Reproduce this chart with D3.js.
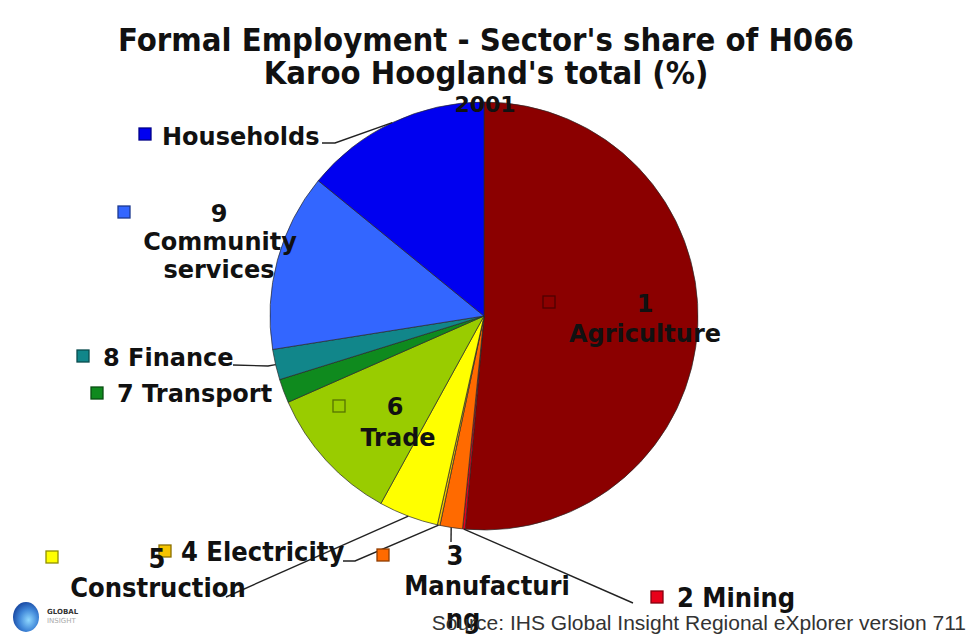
<!DOCTYPE html>
<html>
<head>
<meta charset="utf-8">
<script src="https://cdn.jsdelivr.net/npm/d3@7"></script>
<style>
  body { margin: 0; background: #fff; }
  svg { display: block; }
</style>
</head>
<body>
<svg id="chart" width="969" height="641"></svg>
<script>
// Sector shares of formal employment, 2001 (percent)
const sectors = ["1 Agriculture", "2 Mining", "3 Manufacturing", "4 Electricity", "5 Construction",
                 "6 Trade", "7 Transport", "8 Finance", "9 Community services", "Households"];
const shares = [51.4, 0.2, 1.7, 0.2, 4.5, 10.4, 1.8, 2.3, 13.4, 14.1];
const colors = ["#8b0000", "#e8001a", "#ff6a00", "#f5c400", "#ffff00",
                "#99cc00", "#0f8a1e", "#11868a", "#3366ff", "#0000f0"];
const titleLines = ["Formal Employment - Sector's share of H066", "Karoo Hoogland's total (%)"];
const yearLabel = "2001";
const sourceNote = "Source: IHS Global Insight Regional eXplorer version 711";

// Label placement for each sector: legend key, text lines, optional leader bend/end points
const labelLayout = [
  { key: [549, 302], font: "wide",
    lines: [["1", 645, 312, "middle"], ["Agriculture", 645, 342, "middle"]] },
  { key: [657, 597], font: "narrow", leader: [[633, 603]],
    lines: [["2 Mining", 677, 607, "start"]] },
  { key: [383, 555], font: "narrow", leader: [[451, 542]],
    lines: [["3", 455, 565, "middle"], ["Manufacturi", 487, 595, "middle"], ["ng", 463, 628, "middle"]] },
  { key: [165, 551], font: "narrow", leader: [[355, 561], [343, 561]],
    lines: [["4 Electricity", 181, 561, "start"]] },
  { key: [52, 557], font: "narrow", leader: [[226, 597]],
    lines: [["5", 157, 568, "middle"], ["Construction", 158, 597, "middle"]] },
  { key: [339, 406], font: "wide",
    lines: [["6", 395, 415, "middle"], ["Trade", 398, 446, "middle"]] },
  { key: [97, 393], font: "wide",
    lines: [["7 Transport", 117, 402, "start"]] },
  { key: [83, 356], font: "wide", leader: [[268, 366], [233, 365]],
    lines: [["8 Finance", 103, 366, "start"]] },
  { key: [124, 212], font: "wide",
    lines: [["9", 219, 222, "middle"], ["Community", 220, 250, "middle"], ["services", 219, 278, "middle"]] },
  { key: [145, 134], font: "wide", leader: [[335, 143], [322, 143]],
    lines: [["Households", 162, 145, "start"]] }
];

const svg = d3.select("#chart");
const cx = 484, cy = 316, R = 214;

const fonts = {
  wide: { family: "'DejaVu Sans', Verdana, sans-serif", size: 24, stretch: "normal" },
  narrow: { family: "'DejaVu Sans Condensed', 'DejaVu Sans', sans-serif", size: 27, stretch: "condensed" }
};

// Pie
const pie = d3.pie().sort(null).value(d => d).startAngle(0).endAngle(2 * Math.PI);
const arcs = pie(shares);
const arc = d3.arc().innerRadius(0).outerRadius(R);

const g = svg.append("g").attr("transform", `translate(${cx},${cy})`);
g.selectAll("path.slice")
  .data(arcs)
  .join("path")
  .attr("class", "slice")
  .attr("d", arc)
  .attr("fill", (d, i) => colors[i])
  .attr("stroke", "#2a2a2a")
  .attr("stroke-width", 1)
  .attr("stroke-opacity", 0.7);

// Leader lines from the slice rim to the labels
const rimPoint = d => {
  const a = (d.startAngle + d.endAngle) / 2;
  return [cx + R * Math.sin(a), cy - R * Math.cos(a)];
};
const line = d3.line();
labelLayout.forEach((lay, i) => {
  if (!lay.leader) return;
  const pts = [rimPoint(arcs[i]), ...lay.leader];
  svg.append("path")
    .attr("d", line(pts))
    .attr("fill", "none")
    .attr("stroke", "#222")
    .attr("stroke-width", 1.4);
});

// Legend keys and labels
labelLayout.forEach((lay, i) => {
  const s = 12;
  svg.append("rect")
    .attr("x", lay.key[0] - s / 2).attr("y", lay.key[1] - s / 2)
    .attr("width", s).attr("height", s)
    .attr("fill", colors[i])
    .attr("stroke", d3.color(colors[i]).darker(1.6))
    .attr("stroke-width", 1.3);
  const f = fonts[lay.font];
  lay.lines.forEach(([txt, x, y, anchor]) => {
    svg.append("text")
      .attr("x", x).attr("y", y)
      .attr("text-anchor", anchor)
      .style("font-family", f.family)
      .style("font-stretch", f.stretch)
      .style("font-weight", "bold")
      .style("font-size", f.size + "px")
      .attr("fill", "#111")
      .text(txt);
  });
});

// Title
const titleFont = "'DejaVu Sans Condensed', 'DejaVu Sans', sans-serif";
titleLines.forEach((t, i) => {
  svg.append("text")
    .attr("x", 486).attr("y", 51 + i * 33)
    .attr("text-anchor", "middle")
    .style("font-family", titleFont)
    .style("font-stretch", "condensed")
    .style("font-weight", "bold")
    .style("font-size", "32.5px")
    .attr("fill", "#111")
    .text(t);
});
svg.append("text")
  .attr("x", 485).attr("y", 112)
  .attr("text-anchor", "middle")
  .style("font-family", "'DejaVu Sans', sans-serif")
  .style("font-weight", "bold")
  .style("font-size", "22px")
  .attr("fill", "#111")
  .text(yearLabel);

// Source note
svg.append("text")
  .attr("x", 966).attr("y", 630)
  .attr("text-anchor", "end")
  .style("font-family", "'Liberation Sans', Arial, sans-serif")
  .style("font-size", "21px")
  .attr("fill", "#333")
  .text(sourceNote);

// Publisher logo
const defs = svg.append("defs");
const grad = defs.append("radialGradient").attr("id", "logoGrad")
  .attr("cx", "60%").attr("cy", "60%").attr("r", "60%");
grad.append("stop").attr("offset", "0%").attr("stop-color", "#8fd8ff");
grad.append("stop").attr("offset", "60%").attr("stop-color", "#3f86d8");
grad.append("stop").attr("offset", "100%").attr("stop-color", "#1d4fa8");
svg.append("ellipse").attr("cx", 26).attr("cy", 617).attr("rx", 13).attr("ry", 15)
  .attr("fill", "url(#logoGrad)");
svg.append("text").attr("x", 47).attr("y", 614)
  .style("font-family", "'DejaVu Sans', sans-serif").style("font-weight", "bold")
  .style("font-size", "7px").attr("fill", "#333").text("GLOBAL");
svg.append("text").attr("x", 47).attr("y", 623)
  .style("font-family", "'DejaVu Sans', sans-serif")
  .style("font-size", "7px").attr("fill", "#aaa").text("INSIGHT");
</script>
</body>
</html>
